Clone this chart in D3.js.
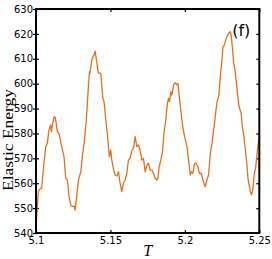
<!DOCTYPE html>
<html>
  <head>
    <meta charset="utf-8">
    <title>Elastic energy (f)</title>
    <script src="https://cdn.jsdelivr.net/npm/d3@7"></script>
    <style>
      body { margin: 0; background: #fff; }
      svg { display: block; }
    </style>
  </head>

  <body>
    <svg id="chart" width="272" height="259"></svg>

    <script>
      // data
      var temps = [
        5.1000, 5.1015, 5.1032, 5.1038, 5.1049, 5.1065, 5.1076, 5.1087, 5.1099, 5.1103,
        5.1114, 5.1121, 5.1130, 5.1143, 5.1155, 5.1170, 5.1188, 5.1200, 5.1211, 5.1222,
        5.1234, 5.1244, 5.1256, 5.1262, 5.1271, 5.1285, 5.1301, 5.1312, 5.1323, 5.1338,
        5.1350, 5.1359, 5.1363, 5.1375, 5.1382, 5.1390, 5.1397, 5.1408, 5.1419, 5.1435,
        5.1449, 5.1457, 5.1469, 5.1482, 5.1493, 5.1502, 5.1509, 5.1520, 5.1531, 5.1543,
        5.1554, 5.1565, 5.1576, 5.1587, 5.1599, 5.1610, 5.1621, 5.1632, 5.1644, 5.1655,
        5.1666, 5.1677, 5.1688, 5.1700, 5.1711, 5.1722, 5.1733, 5.1745, 5.1756, 5.1767,
        5.1778, 5.1789, 5.1801, 5.1812, 5.1819, 5.1827, 5.1839, 5.1850, 5.1859, 5.1872,
        5.1883, 5.1890, 5.1897, 5.1906, 5.1913, 5.1924, 5.1935, 5.1947, 5.1953, 5.1964,
        5.1975, 5.1987, 5.1998, 5.2014, 5.2025, 5.2036, 5.2043, 5.2054, 5.2065, 5.2076,
        5.2088, 5.2098, 5.2110, 5.2121, 5.2132, 5.2137, 5.2148, 5.2159, 5.2171, 5.2182,
        5.2193, 5.2204, 5.2216, 5.2227, 5.2238, 5.2249, 5.2256, 5.2265, 5.2274, 5.2283,
        5.2294, 5.2306, 5.2312, 5.2321, 5.2328, 5.2337, 5.2351, 5.2364, 5.2378, 5.2386,
        5.2395, 5.2407, 5.2418, 5.2425, 5.2432, 5.2440, 5.2447, 5.2456, 5.2467, 5.2476,
        5.2485, 5.2496, 5.2500
      ];
      var energy = [
        542, 556.6, 558, 558, 565.3, 574.7, 576, 581.4, 583.4, 580.7,
        584.7, 586.7, 586.5, 580.7, 580, 575.4, 570.7, 562, 561.3, 554.6,
        551.2, 550.6, 550.8, 549.2, 553.3, 561.3, 564.6, 571.3, 576, 585.4,
        597, 604.8, 604.2, 609.5, 610.8, 611.5, 613.1, 608.8, 604.2, 604.2,
        594.1, 592.8, 585.4, 578, 570.7, 573.3, 569.3, 566, 563.3, 562.9,
        564.6, 560, 556.6, 560, 561.3, 564, 569.3, 570, 573.3, 574,
        578.7, 574.7, 575.4, 573.3, 569.3, 570, 564.6, 567.3, 568, 565.3,
        565.3, 564, 562, 561.3, 562, 566.6, 569.3, 572.7, 580, 585.4,
        592.1, 594.1, 592.8, 596.8, 595.4, 599.5, 600.4, 599.5, 600.1, 594.1,
        588.1, 582.1, 578.7, 574.7, 569.3, 563.3, 564.6, 564, 568, 568,
        566.6, 564, 564, 561.3, 559.3, 558.6, 561.3, 563.3, 572, 576,
        581.4, 586.7, 592.8, 594.8, 602.8, 609.5, 614.9, 615.5, 617.5, 618.9,
        620.2, 620.9, 618.9, 613.5, 608.2, 605.5, 597.5, 590.7, 588.1, 582.7,
        579.4, 573.3, 566.6, 561.3, 559.3, 556.6, 555.3, 557.3, 564, 566.6,
        572, 577.4, 580
      ];
      var xTicks = [5.1, 5.15, 5.2, 5.25];
      var xTickLabels = ["5.1", "5.15", "5.2", "5.25"];
      var yTicks = [540, 550, 560, 570, 580, 590, 600, 610, 620, 630];
      var yTickLabels = ["540", "550", "560", "570", "580", "590", "600", "610", "620", "630"];

      // layout
      var margin = {top: 9, right: 12.7, bottom: 26, left: 36};
      var width = 272 - margin.left - margin.right;
      var height = 259 - margin.top - margin.bottom;
      var tickFont = "'DejaVu Sans', sans-serif";
      var labelFont = "'Liberation Serif', 'DejaVu Serif', serif";

      var chart = d3.select("#chart");
      var g = chart.append("g")
        .attr("transform", "translate(" + margin.left + "," + margin.top + ")");

      var x = d3.scaleLinear().domain([5.1, 5.25]).range([0, width]);
      var y = d3.scaleLinear().domain([540, 630]).range([height, 0]);

      g.append("clipPath").attr("id", "plotClip")
        .append("rect").attr("width", width).attr("height", height);

      // axes
      var bottomAxis = g.append("g")
        .attr("transform", "translate(0," + height + ")")
        .call(d3.axisBottom(x).tickValues(xTicks).tickSize(-3).tickPadding(4)
          .tickFormat(function(d, i) { return xTickLabels[i]; }));
      var topAxis = g.append("g")
        .call(d3.axisTop(x).tickValues(xTicks).tickSize(-3).tickFormat(""));
      var leftAxis = g.append("g")
        .call(d3.axisLeft(y).tickValues(yTicks).tickSize(3).tickPadding(0)
          .tickFormat(function(d, i) { return yTickLabels[i]; }));
      leftAxis.selectAll(".tick line").attr("x1", 3);
      var rightAxis = g.append("g")
        .attr("transform", "translate(" + width + ",0)")
        .call(d3.axisRight(y).tickValues(yTicks).tickSize(-3).tickFormat(""));

      [bottomAxis, topAxis, leftAxis, rightAxis].forEach(function(a) {
        a.select(".domain").remove();
        a.selectAll(".tick line").attr("stroke", "#000").attr("stroke-width", 1.2);
        a.selectAll(".tick text")
          .attr("fill", "#000")
          .style("font-family", tickFont)
          .style("font-size", "10px");
      });

      // the curve
      var line = d3.line()
        .x(function(d, i) { return x(temps[i]); })
        .y(function(d) { return y(d); });

      g.append("path")
        .datum(energy)
        .attr("clip-path", "url(#plotClip)")
        .attr("fill", "none")
        .attr("stroke", "#e3701c")
        .attr("stroke-width", 1.3)
        .attr("stroke-linejoin", "round")
        .attr("d", line);

      // frame
      g.append("rect")
        .attr("width", width)
        .attr("height", height)
        .attr("fill", "none")
        .attr("stroke", "#000")
        .attr("stroke-width", 2);

      // labels
      g.append("text")
        .attr("x", width / 2)
        .attr("y", height + 23)
        .attr("text-anchor", "middle")
        .style("font-family", labelFont)
        .style("font-style", "italic")
        .style("font-size", "16px")
        .text("T");

      chart.append("text")
        .attr("transform", "translate(13,140) rotate(-90)")
        .attr("text-anchor", "middle")
        .attr("textLength", 102)
        .attr("lengthAdjust", "spacingAndGlyphs")
        .style("font-family", labelFont)
        .style("font-size", "15px")
        .text("Elastic Energy");

      g.append("text")
        .attr("x", width - 9)
        .attr("y", 27)
        .attr("text-anchor", "end")
        .style("font-family", tickFont)
        .style("font-size", "16px")
        .text("(f)");
    </script>
  </body>
</html>
